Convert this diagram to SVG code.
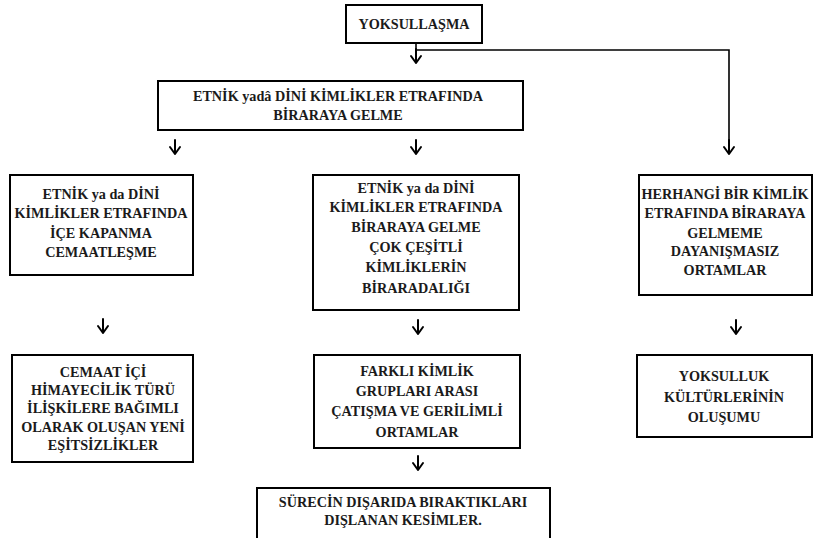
<svg xmlns="http://www.w3.org/2000/svg" width="813" height="538" viewBox="0 0 813 538">
<style>
.box{fill:#fff;stroke:#000;stroke-width:2}
text{font-family:"Liberation Serif","DejaVu Serif",serif;font-size:14.2px;font-weight:bold;fill:#1a1a1a;text-anchor:middle}
.c{fill:none;stroke:#000;stroke-width:1.6}
.ah{fill:none;stroke:#000;stroke-width:2;stroke-linecap:round;stroke-linejoin:round}
</style>
<defs>
<path id="head" class="ah" d="M-5,-6 L0,1 L5,-6 M0,-13 L0,1"/>
</defs>
<rect width="813" height="538" fill="#fff"/>
<g id="connectors">
<path class="c" d="M416,43 V62"/>
<path class="c" d="M416,50 H729 V153"/>
<use href="#head" x="416" y="62"/>
<use href="#head" x="729" y="153"/>
<use href="#head" x="175" y="153"/>
<use href="#head" x="416" y="153"/>
<use href="#head" x="103" y="332"/>
<use href="#head" x="418" y="333"/>
<use href="#head" x="736" y="333"/>
<use href="#head" x="418" y="469"/>
</g>
<g id="n1"><rect class="box" x="346" y="5" width="136" height="38"/><text x="414" y="29">YOKSULLAŞMA</text></g>
<g id="n2"><rect class="box" x="158" y="81" width="365" height="49"/><text x="338" y="101">ETNİK yadâ DİNİ KİMLİKLER ETRAFINDA</text><text x="338" y="120">BİRARAYA GELME</text></g>
<g id="n3"><rect class="box" x="10" y="175" width="183" height="100"/>
<text x="101" y="199">ETNİK ya da DİNİ</text><text x="101" y="218">KİMLİKLER ETRAFINDA</text><text x="101" y="238">İÇE KAPANMA</text><text x="101" y="257">CEMAATLEŞME</text></g>
<g id="n4"><rect class="box" x="313" y="175" width="206" height="135"/>
<text x="416" y="193">ETNİK ya da DİNİ</text><text x="416" y="212">KİMLİKLER ETRAFINDA</text><text x="416" y="232">BİRARAYA GELME</text><text x="416" y="252">ÇOK ÇEŞİTLİ</text><text x="416" y="272">KİMLİKLERİN</text><text x="416" y="293">BİRARADALIĞI</text></g>
<g id="n5"><rect class="box" x="639" y="175" width="173" height="120"/>
<text x="725" y="199">HERHANGİ BİR KİMLİK</text><text x="725" y="218">ETRAFINDA BİRARAYA</text><text x="725" y="238">GELMEME</text><text x="725" y="256">DAYANIŞMASIZ</text><text x="725" y="275">ORTAMLAR</text></g>
<g id="n6"><rect class="box" x="12" y="355" width="181" height="107"/>
<text x="103" y="377">CEMAAT İÇİ</text><text x="103" y="395">HİMAYECİLİK TÜRÜ</text><text x="103" y="413">İLİŞKİLERE BAĞIMLI</text><text x="103" y="432">OLARAK OLUŞAN YENİ</text><text x="103" y="450">EŞİTSİZLİKLER</text></g>
<g id="n7"><rect class="box" x="314" y="355" width="206" height="93"/>
<text x="417" y="376">FARKLI KİMLİK</text><text x="417" y="396">GRUPLARI ARASI</text><text x="417" y="416">ÇATIŞMA VE GERİLİMLİ</text><text x="417" y="437">ORTAMLAR</text></g>
<g id="n8"><rect class="box" x="637" y="355" width="175" height="82"/>
<text x="724" y="381">YOKSULLUK</text><text x="724" y="402">KÜLTÜRLERİNİN</text><text x="724" y="422">OLUŞUMU</text></g>
<g id="n9"><rect class="box" x="257" y="488" width="293" height="60"/>
<text x="403" y="507">SÜRECİN DIŞARIDA BIRAKTIKLARI</text><text x="403" y="525">DIŞLANAN KESİMLER.</text></g>
</svg>
